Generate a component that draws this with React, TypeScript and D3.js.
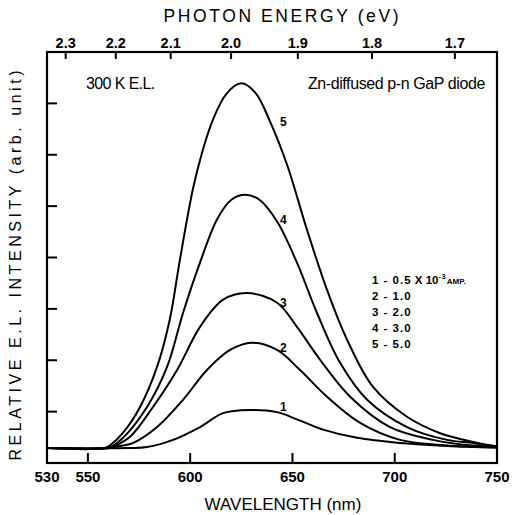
import React from 'react';
import * as d3 from 'd3';

// electroluminescence spectra, [wavelength nm, intensity arb. unit]
const curve1: [number, number][] = [
  [530, 0.29], [570, 0.29], [578.9, 0.31], [591.6, 0.45], [604.8, 0.7], [616.1, 0.97],
  [629.3, 1.03], [642.5, 0.99], [652.2, 0.85], [665, 0.65], [681.6, 0.49], [702.6, 0.39],
  [725.6, 0.33], [750, 0.3],
];
const curve2: [number, number][] = [
  [530, 0.29], [561, 0.29], [564, 0.32], [572.1, 0.39], [583.8, 0.7], [596.5, 1.23],
  [608.2, 1.81], [619.5, 2.2], [630.2, 2.34], [642.5, 2.2], [653.7, 1.81], [666.9, 1.29],
  [683.1, 0.78], [702.6, 0.45], [722.2, 0.35], [750, 0.3],
];
const curve3: [number, number][] = [
  [530, 0.29], [560, 0.29], [563, 0.33], [570.6, 0.51], [581.8, 1.09], [593.6, 1.81],
  [604.8, 2.65], [616.1, 3.18], [627.8, 3.31], [642.5, 3.12], [652.2, 2.65], [663.5, 2.01],
  [678.2, 1.29], [697.7, 0.7], [718.8, 0.45], [735, 0.35], [750, 0.31],
];
const curve4: [number, number][] = [
  [530, 0.29], [559, 0.29], [562, 0.33], [567.2, 0.49], [578.9, 1.09], [588.7, 1.87],
  [596.5, 2.92], [604.8, 3.9], [613.1, 4.74], [620, 5.12], [627, 5.22], [634, 5.12],
  [642.5, 4.7], [652.2, 3.9], [662, 2.92], [673.3, 1.95], [686.5, 1.23], [706, 0.7],
  [725.6, 0.45], [738.3, 0.39], [750, 0.32],
];
const curve5: [number, number][] = [
  [530, 0.29], [558, 0.29], [561, 0.35], [567, 0.58], [575.5, 1.09], [583.8, 1.87],
  [590, 2.79], [595, 3.96], [602.4, 5.52], [611.2, 6.69], [618, 7.2], [625, 7.39],
  [632, 7.2], [639, 6.65], [647.4, 5.8], [657.1, 4.54], [666.9, 3.37], [676.7, 2.4],
  [689.4, 1.48], [706, 0.9], [722.2, 0.58], [738.3, 0.41], [750, 0.32],
];
const curves = [curve1, curve2, curve3, curve4, curve5];

const curveNames = ['1', '2', '3', '4', '5'];
const labelWavelength = 645.5;
const labelIntensity = [1.1, 2.24, 3.12, 4.74, 6.64];

const currents = ['0.5', '1.0', '2.0', '3.0', '5.0'];

const wlTicks = [550, 600, 650, 700, 750];
const wlLabels = [530, 550, 600, 650, 700, 750];
const energyTicks = [2.3, 2.2, 2.1, 2.0, 1.9, 1.8, 1.7];
const yTicks = [1, 2, 3, 4, 5, 6, 7];

const W = 526;
const H = 515;
const margin = { top: 52, right: 29, bottom: 52, left: 47 };
const font = "'Liberation Sans', Arial, Helvetica, sans-serif";

export default function App() {
  const x = d3.scaleLinear().domain([530, 750]).range([margin.left, W - margin.right]);
  const y = d3.scaleLinear().domain([0, 8]).range([H - margin.bottom, margin.top]);

  const line = d3.line<[number, number]>()
    .x(d => x(d[0]))
    .y(d => y(d[1]))
    .curve(d3.curveCatmullRom.alpha(0.5));

  const x0 = x(530);
  const x1 = x(750);
  const yTop = y(8);
  const yBot = y(0);

  return (
    <svg width={W} height={H} style={{ position: 'absolute', left: 0, top: 0, background: '#fff' }}
      fontFamily={font}>
      {/* titles */}
      <text x={281} y={22} textAnchor="middle" fontSize={17.5} textLength={235}
        lengthAdjust="spacing">PHOTON ENERGY (eV)</text>
      <text x={283} y={510} textAnchor="middle" fontSize={17}>WAVELENGTH (nm)</text>
      <text transform={`translate(21,${(yTop + yBot) / 2 + 8}) rotate(-90)`} textAnchor="middle"
        fontSize={16} textLength={390} lengthAdjust="spacing">RELATIVE E.L. INTENSITY (arb. unit)</text>

      {/* top energy axis */}
      {energyTicks.map(e => (
        <g key={e}>
          <line x1={x(1240 / e)} x2={x(1240 / e)} y1={yTop} y2={yTop + 7} stroke="#000" strokeWidth={2} />
          <text x={x(1240 / e)} y={48} textAnchor="middle" fontSize={14.5} fontWeight="bold">
            {d3.format('.1f')(e)}
          </text>
        </g>
      ))}

      {/* bottom wavelength axis */}
      {wlTicks.map(w => (
        <line key={w} x1={x(w)} x2={x(w)} y1={yBot} y2={yBot - 10} stroke="#000" strokeWidth={2} />
      ))}
      {wlLabels.map(w => (
        <text key={w} x={x(w)} y={482} textAnchor="middle" fontSize={15} fontWeight="bold">{w}</text>
      ))}

      {/* left ticks */}
      {yTicks.map(t => (
        <line key={t} x1={x0} x2={x0 + 10} y1={y(t)} y2={y(t)} stroke="#000" strokeWidth={2} />
      ))}

      {/* curves */}
      {curves.map((c, i) => (
        <path key={i} d={line(c) || ''} fill="none" stroke="#000" strokeWidth={2} />
      ))}
      {curveNames.map((n, i) => (
        <text key={n} x={x(labelWavelength)} y={y(labelIntensity[i])} dy="0.35em" fontSize={12}
          fontWeight="bold" textAnchor="middle">{n}</text>
      ))}

      {/* frame */}
      <rect x={x0} y={yTop} width={x1 - x0} height={yBot - yTop} fill="none" stroke="#000" strokeWidth={2.2} />

      {/* annotations */}
      <text x={86} y={89} fontSize={16} letterSpacing={-0.6}>300 K E.L.</text>
      <text x={485} y={89} fontSize={16} textAnchor="end" letterSpacing={-0.4}>Zn-diffused p-n GaP diode</text>

      {/* legend */}
      {currents.map((c, i) => (
        <text key={c} x={372} y={284 + i * 16} fontSize={11.5} fontWeight="bold" letterSpacing={1}>
          {`${curveNames[i]} - ${c}`}
          {i === 0 && <tspan letterSpacing={0}>{' X 10'}</tspan>}
          {i === 0 && <tspan fontSize={7} dy={-5}>-3</tspan>}
          {i === 0 && <tspan fontSize={8} dy={5} letterSpacing={0}>AMP.</tspan>}
        </text>
      ))}
    </svg>
  );
}
